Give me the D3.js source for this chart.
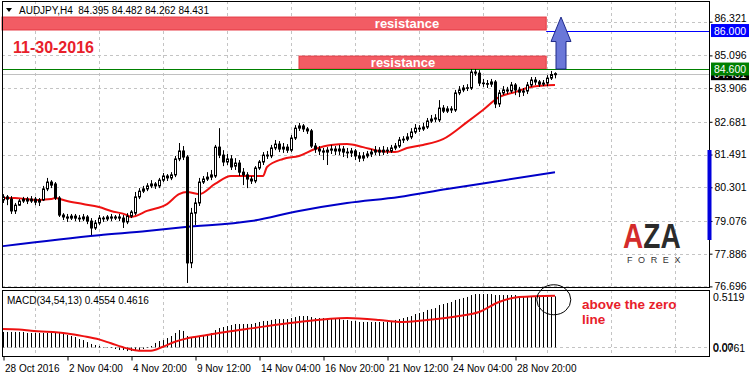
<!DOCTYPE html>
<html>
<head>
<meta charset="utf-8">
<script src="https://cdn.jsdelivr.net/npm/d3@7"></script>
<style>
  body { margin: 0; background: #fff; }
  svg { display: block; font-family: "Liberation Sans", Arial, sans-serif; }
</style>
</head>
<body>
<div id="chart"></div>
<script>
// AUDJPY H4 candles, [open, high, low, close]
const candles = [
  [79.84,80.05,79.73,79.95],[79.95,80.02,79.65,79.87],[79.87,79.98,79.33,79.44],[79.44,79.73,79.33,79.65],
  [79.65,79.87,79.62,79.80],[79.80,79.95,79.73,79.87],[79.87,79.95,79.69,79.80],[79.80,79.98,79.73,79.87],
  [79.87,79.95,79.65,79.76],[79.76,79.91,79.62,79.84],[79.84,80.35,79.80,80.24],[80.24,80.64,80.16,80.49],
  [80.49,80.56,80.27,80.38],[80.42,80.49,79.84,79.91],[79.91,79.98,79.22,79.29],[79.29,79.36,79.11,79.22],
  [79.22,79.33,79.04,79.18],[79.18,79.33,79.11,79.25],[79.25,79.33,79.07,79.18],[79.18,79.29,79.04,79.15],
  [79.15,79.33,79.07,79.22],[79.22,79.29,78.96,79.07],[79.07,79.18,78.56,78.82],[78.82,79.11,78.75,79.00],
  [79.00,79.29,78.93,79.18],[79.18,79.25,79.04,79.15],[79.15,79.29,79.07,79.22],[79.22,79.33,79.07,79.18],
  [79.18,79.29,79.11,79.22],[79.22,79.33,79.07,79.18],[79.18,79.29,78.82,79.04],[79.04,79.36,78.96,79.25],
  [79.25,79.47,79.18,79.40],[79.36,80.13,79.29,79.95],[79.95,80.27,79.87,80.16],[80.16,80.35,80.09,80.24],
  [80.24,80.45,80.16,80.35],[80.35,80.56,80.27,80.42],[80.42,80.49,80.24,80.35],[80.35,80.64,80.27,80.56],
  [80.56,80.82,80.49,80.71],[80.71,80.78,80.53,80.64],[80.64,80.85,80.56,80.75],[80.75,81.44,80.67,81.33],
  [81.33,81.91,81.25,81.62],[81.62,81.80,81.29,81.40],[81.40,81.47,76.82,77.55],[77.55,79.55,77.36,79.36],
  [79.36,79.91,78.93,79.73],[79.73,80.64,79.62,80.49],[80.49,80.71,80.42,80.60],[80.60,80.85,80.53,80.67],
  [80.67,80.93,80.56,80.75],[80.71,81.84,80.64,81.76],[81.76,82.45,81.36,81.47],[81.47,81.65,81.07,81.22],
  [81.22,81.51,81.11,81.33],[81.33,81.47,80.93,81.04],[81.07,81.36,80.93,81.18],[81.18,81.29,80.71,80.85],
  [80.85,81.00,80.38,80.75],[80.75,80.85,80.27,80.60],[80.60,80.71,80.42,80.53],[80.53,81.07,80.45,81.00],
  [81.00,81.29,80.93,81.22],[81.22,81.58,81.11,81.47],[81.47,81.62,81.33,81.44],[81.44,81.84,81.36,81.73],
  [81.73,82.02,81.65,81.87],[81.87,81.98,81.58,81.69],[81.69,81.91,81.55,81.76],[81.76,81.87,81.55,81.65],
  [81.65,82.20,81.58,82.09],[82.09,82.56,82.02,82.45],[82.45,82.64,82.35,82.53],[82.53,82.60,82.31,82.42],
  [82.42,82.49,82.24,82.35],[82.35,82.42,81.73,81.80],[81.80,81.91,81.55,81.69],[81.69,81.80,81.47,81.62],
  [81.62,81.73,81.29,81.58],[81.58,81.76,81.11,81.65],[81.65,81.84,81.51,81.69],[81.69,81.80,81.47,81.62],
  [81.62,81.84,81.47,81.69],[81.69,81.80,81.40,81.58],[81.58,81.73,81.36,81.55],[81.55,81.73,81.40,81.62],
  [81.62,81.69,81.29,81.44],[81.44,81.58,81.22,81.36],[81.36,81.58,81.25,81.44],[81.44,81.62,81.36,81.51],
  [81.51,81.69,81.40,81.58],[81.58,81.80,81.47,81.65],[81.65,81.76,81.44,81.58],[81.58,81.80,81.47,81.65],
  [81.65,81.76,81.51,81.62],[81.62,81.84,81.55,81.73],[81.73,81.91,81.65,81.80],[81.80,82.13,81.73,82.02],
  [82.02,82.16,81.91,82.05],[82.05,82.27,81.98,82.13],[82.13,82.45,82.05,82.31],[82.31,82.60,82.24,82.45],
  [82.45,82.56,82.31,82.42],[82.42,82.64,82.35,82.49],[82.49,82.82,82.42,82.71],[82.71,82.93,82.64,82.78],
  [82.78,82.96,82.67,82.82],[82.75,83.47,82.67,83.18],[83.18,83.29,83.00,83.07],[83.07,83.25,83.00,83.15],
  [83.15,83.25,83.00,83.11],[83.11,83.84,83.04,83.73],[83.73,83.98,83.65,83.84],[83.84,84.02,83.76,83.91],
  [83.91,84.05,83.80,83.92],[83.91,84.60,83.84,84.49],[84.49,84.60,84.35,84.45],[84.45,84.56,83.98,84.09],
  [84.09,84.24,83.95,84.07],[84.07,84.20,83.91,84.05],[84.05,84.24,83.95,84.13],[84.13,84.20,83.18,83.33],
  [83.33,83.84,83.22,83.73],[83.73,83.98,83.65,83.84],[83.84,83.95,83.69,83.80],[83.80,84.13,83.73,84.02],
  [84.02,84.09,83.65,83.84],[83.84,83.95,83.58,83.76],[83.76,83.91,83.62,83.80],[83.80,84.13,83.69,84.02],
  [84.02,84.31,83.95,84.20],[84.20,84.31,84.02,84.13],[84.13,84.20,83.95,84.05],[84.05,84.20,83.98,84.09],
  [84.09,84.38,83.98,84.27],[84.27,84.53,84.20,84.40],[84.395,84.482,84.262,84.431]
];

// moving averages, [bar index, price]
const redMA = [[0,79.91],[3,79.91],[6,79.87],[9,79.84],[12,79.87],[13,79.91],[16,79.80],[20,79.69],
  [24,79.58],[27,79.44],[31,79.29],[32,79.22],[33,79.25],[36,79.44],[41,79.69],[44,80.05],[46,80.13],
  [49,80.05],[53,80.42],[57,80.71],[61,80.71],[65,80.71],[66,81.04],[70,81.33],[74,81.44],[78,81.69],
  [82,81.84],[86,81.87],[90,81.76],[94,81.62],[98,81.58],[101,81.73],[105,81.84],[110,82.05],
  [116,82.67],[120,83.11],[124,83.58],[128,83.76],[132,83.95],[138,84.02]];
const blueMA = [[0,78.16],[24,78.56],[36,78.71],[45,78.85],[62,79.07],[74,79.44],[86,79.73],
  [99,79.95],[111,80.24],[124,80.53],[138,80.85]];

// MACD(34,54,13)
const macdHist = [0.138,0.138,0.138,0.138,0.138,0.138,0.129,0.129,0.129,0.129,0.129,0.129,0.129,0.129,0.129,
  0.120,0.111,0.102,0.093,0.075,0.066,0.048,0.031,0.022,0.013,0.004,0.004,-0.005,-0.014,-0.023,-0.023,
  -0.032,-0.032,-0.023,-0.023,-0.014,-0.005,0.013,0.040,0.057,0.066,0.084,0.102,0.129,0.155,0.147,
  0.102,0.093,0.093,0.102,0.111,0.120,0.129,0.155,0.173,0.182,0.191,0.200,0.209,0.209,0.209,0.209,0.209,
  0.218,0.227,0.236,0.236,0.245,0.253,0.253,0.253,0.253,0.262,0.271,0.280,0.280,0.280,0.271,0.262,0.262,
  0.262,0.253,0.253,0.253,0.253,0.245,0.245,0.236,0.236,0.227,0.227,0.227,0.227,0.227,0.227,0.227,0.227,
  0.236,0.245,0.253,0.262,0.271,0.280,0.298,0.307,0.316,0.334,0.342,0.351,0.378,0.387,0.396,0.405,0.423,
  0.432,0.441,0.450,0.467,0.476,0.476,0.476,0.476,0.476,0.467,0.467,0.467,0.467,0.467,0.467,0.458,0.458,
  0.458,0.458,0.458,0.458,0.450,0.450,0.450,0.4554];
const macdSignal = [[0,0.164],[4,0.161],[7,0.149],[16,0.125],[20,0.101],[24,0.072],[27,0.037],[31,-0.008],
  [34,-0.029],[37,-0.029],[40,0.006],[43,0.051],[46,0.081],[51,0.111],[56,0.140],[62,0.170],[74,0.227],
  [86,0.262],[94,0.245],[99,0.227],[106,0.245],[114,0.280],[119,0.316],[124,0.405],[129,0.450],[138,0.4616]];

const priceTicks = [86.321, 85.096, 83.906, 82.681, 81.491, 80.301, 79.076, 77.886, 76.696];
const timeTickIdx = [0, 16, 32, 48, 64, 80, 96, 112, 128];
const timeLabels = ["28 Oct 2016", "2 Nov 04:00", "4 Nov 20:00", "9 Nov 12:00", "14 Nov 04:00",
  "16 Nov 20:00", "21 Nov 12:00", "24 Nov 04:00", "28 Nov 20:00"];
const gridIdx = [8, 24, 40, 56, 72, 88, 104, 120, 136, 152, 168];

const resistHigh = [86.02, 86.49];
const resistLow = [84.60, 85.07];
const targetLevel = 86.000, breakLevel = 84.600, lastPrice = 84.431;

const width = 749, height = 378;
const L = 2, R = 709, mainTop = 1, mainBot = 287, macdTop = 290, macdBot = 356;

const svg = d3.select("#chart").append("svg")
  .attr("width", width).attr("height", height);

const x = d3.scaleLinear().domain([0, 138]).range([3, 555]);
const y = d3.scaleLinear().domain([76.696, 86.321]).range([286.4, 21.7]);
const ym = d3.scaleLinear().domain([-0.0761, 0.5119]).range([356, 290]);

const gridColor = "#c4c4c4";

// grid
const grid = svg.append("g").attr("stroke", gridColor).attr("stroke-dasharray", "3,3");
grid.selectAll(".h").data(priceTicks).join("line")
  .attr("x1", L).attr("x2", R)
  .attr("y1", d => Math.round(y(d)) + 0.5).attr("y2", d => Math.round(y(d)) + 0.5);
grid.selectAll(".v").data(gridIdx).join("line")
  .attr("x1", d => x(d) + 0.5).attr("x2", d => x(d) + 0.5)
  .attr("y1", mainTop).attr("y2", mainBot);
grid.selectAll(".vm").data(gridIdx).join("line")
  .attr("x1", d => x(d) + 0.5).attr("x2", d => x(d) + 0.5)
  .attr("y1", macdTop).attr("y2", macdBot);
grid.append("line").attr("x1", L).attr("x2", R)
  .attr("y1", Math.round(ym(0)) + 0.5).attr("y2", Math.round(ym(0)) + 0.5);

// resistance zones
const zones = [
  {r: resistHigh, from: -0.4, label: "resistance", lx: 101},
  {r: resistLow, from: 74, label: "resistance", lx: 100}
];
svg.append("g").selectAll("rect").data(zones).join("rect")
  .attr("x", d => Math.max(L, x(d.from)))
  .attr("y", d => y(d.r[1]))
  .attr("width", d => x(135.8) - Math.max(L, x(d.from)))
  .attr("height", d => y(d.r[0]) - y(d.r[1]))
  .attr("fill", "#f25c64").attr("stroke", "#e53841").attr("stroke-width", 1);
svg.append("g").selectAll("text").data(zones).join("text")
  .attr("x", d => x(d.lx)).attr("y", d => (y(d.r[0]) + y(d.r[1])) / 2 + 4.5)
  .attr("text-anchor", "middle").attr("fill", "#fff")
  .attr("font-weight", "bold").attr("font-size", "13px")
  .text(d => d.label);

// horizontal levels
svg.append("line").attr("x1", L).attr("x2", R)
  .attr("y1", Math.round(y(lastPrice)) + 0.5).attr("y2", Math.round(y(lastPrice)) + 0.5)
  .attr("stroke", "#c0c0c0");
svg.append("line").attr("x1", L).attr("x2", R)
  .attr("y1", Math.round(y(breakLevel)) + 0.5).attr("y2", Math.round(y(breakLevel)) + 0.5)
  .attr("stroke", "#008000");
svg.append("line").attr("x1", x(135.8)).attr("x2", R)
  .attr("y1", Math.round(y(targetLevel)) + 0.5).attr("y2", Math.round(y(targetLevel)) + 0.5)
  .attr("stroke", "#0000ff");

// moving averages
const maLine = d3.line().x(d => x(d[0])).y(d => y(d[1])).curve(d3.curveMonotoneX);
svg.append("path").datum(blueMA).attr("d", maLine)
  .attr("fill", "none").attr("stroke", "#0000c8").attr("stroke-width", 2);
svg.append("path").datum(redMA).attr("d", maLine)
  .attr("fill", "none").attr("stroke", "#ee1111").attr("stroke-width", 2);

// candles
const cg = svg.append("g").selectAll("g").data(candles).join("g");
cg.append("line")
  .attr("x1", (d, i) => x(i) + 0.5).attr("x2", (d, i) => x(i) + 0.5)
  .attr("y1", d => y(d[1])).attr("y2", d => y(d[2]))
  .attr("stroke", "#000");
cg.append("rect")
  .attr("x", (d, i) => x(i) - 0.5).attr("width", 2)
  .attr("y", d => Math.min(y(d[0]), y(d[3])))
  .attr("height", d => Math.max(Math.abs(y(d[0]) - y(d[3])), 0.6))
  .attr("fill", d => d[3] >= d[0] ? "#fff" : "#000")
  .attr("stroke", "#000");

// up arrow towards 86.000
const ax = x(139.5), tip = y(86.49), base = y(breakLevel), neck = y(85.6);
svg.append("path")
  .attr("d", `M${ax},${tip} L${ax + 10},${neck} L${ax + 5},${neck} L${ax + 5},${base} L${ax - 5},${base} L${ax - 5},${neck} L${ax - 10},${neck} Z`)
  .attr("fill", "#6b78d8").attr("stroke", "#1f2a8a").attr("stroke-width", 1);

// MACD histogram and signal
svg.append("g").selectAll("line").data(macdHist).join("line")
  .attr("x1", (d, i) => x(i) + 0.5).attr("x2", (d, i) => x(i) + 0.5)
  .attr("y1", ym(0)).attr("y2", d => ym(d))
  .attr("stroke", "#000");
svg.append("path").datum(macdSignal)
  .attr("d", d3.line().x(d => x(d[0])).y(d => ym(d[1])).curve(d3.curveMonotoneX))
  .attr("fill", "none").attr("stroke", "#ee1111").attr("stroke-width", 2);

svg.append("ellipse").attr("cx", x(137.7)).attr("cy", ym(0.425))
  .attr("rx", 17).attr("ry", 15)
  .attr("fill", "none").attr("stroke", "#000").attr("stroke-width", 1);

// panel frames
svg.append("rect").attr("x", L + 0.5).attr("y", mainTop + 0.5)
  .attr("width", R - L).attr("height", mainBot - mainTop)
  .attr("fill", "none").attr("stroke", "#000");
svg.append("rect").attr("x", L + 0.5).attr("y", macdTop + 0.5)
  .attr("width", R - L).attr("height", macdBot - macdTop)
  .attr("fill", "none").attr("stroke", "#000");

// right price axis
const yAxis = svg.append("g").attr("transform", `translate(${R + 0.5},0)`)
  .call(d3.axisRight(y).tickValues(priceTicks).tickFormat(d3.format(".3f")).tickSize(3).tickPadding(2));
yAxis.select(".domain").remove();
yAxis.selectAll("text").attr("font-size", "10.5px").attr("font-family", "Liberation Sans, Arial, sans-serif")
  .attr("fill", "#000");
yAxis.selectAll(".tick").filter(d => d === 86.321).select("text").attr("dy", "-0.05em");

svg.append("rect").attr("x", R - 1.5).attr("y", 150).attr("width", 4).attr("height", 90)
  .attr("fill", "#0000dd");

function priceTag(v, bg) {
  const g = svg.append("g");
  g.append("rect").attr("x", R + 2).attr("y", y(v) - 6.5).attr("width", 38).attr("height", 13)
    .attr("fill", bg);
  g.append("text").attr("x", R + 5).attr("y", y(v) + 4).attr("fill", "#fff")
    .attr("font-size", "10.5px").text(v.toFixed(3));
}
priceTag(lastPrice, "#000");
priceTag(breakLevel, "#008000");
priceTag(targetLevel, "#0000ff");

// MACD axis labels
svg.append("text").attr("x", R + 4).attr("y", ym(0.5119) + 11).attr("font-size", "10.5px").text("0.5119");
svg.append("text").attr("x", R + 4).attr("y", ym(0) + 4).attr("font-size", "10.5px").text("0.00");
svg.append("text").attr("x", R + 4).attr("y", ym(0) + 5).attr("font-size", "10.5px").text("0.0761");

// time axis
const xAxis = svg.append("g").attr("transform", `translate(0.5,${macdBot + 0.5})`)
  .call(d3.axisBottom(x).tickValues(timeTickIdx).tickFormat((d, i) => timeLabels[i]).tickSize(4));
xAxis.select(".domain").remove();
xAxis.selectAll("text").attr("text-anchor", "start").attr("x", 1).attr("y", 8)
  .attr("font-size", "10px").attr("font-family", "Liberation Sans, Arial, sans-serif").attr("fill", "#000");

// header texts
svg.append("path").attr("d", "M6,8 L12,8 L9,12 Z").attr("fill", "#000");
svg.append("text").attr("x", 19).attr("y", 14).attr("font-size", "10px")
  .text("AUDJPY,H4  84.395 84.482 84.262 84.431").style("white-space", "pre");
svg.append("text").attr("x", 7).attr("y", 304).attr("font-size", "10px")
  .text("MACD(34,54,13) 0.4554 0.4616");

svg.append("text").attr("x", 13).attr("y", 53).attr("font-size", "16px").attr("font-weight", "bold")
  .attr("fill", "#e8202a").text("11-30-2016");

svg.append("text").attr("x", 582).attr("y", 309).attr("font-size", "13.5px").attr("font-weight", "bold")
  .attr("fill", "#e8202a").text("above the zero");
svg.append("text").attr("x", 582).attr("y", 324).attr("font-size", "13.5px").attr("font-weight", "bold")
  .attr("fill", "#e8202a").text("line");

// logo
const logo = svg.append("g").attr("transform", "translate(623,248) scale(1,1.22)")
  .attr("font-weight", "900").attr("font-size", "28px");
logo.append("text").attr("x", 0).attr("fill", "#d42b2b").text("A");
logo.append("text").attr("x", 20.3).attr("fill", "#2b2b2b").text("Z");
logo.append("text").attr("x", 37.5).attr("fill", "#2b2b2b").text("A");
svg.append("text").attr("x", 627).attr("y", 263).attr("font-size", "9px")
  .attr("letter-spacing", "5.6px").attr("fill", "#333").text("FOREX");
</script>
</body>
</html>
